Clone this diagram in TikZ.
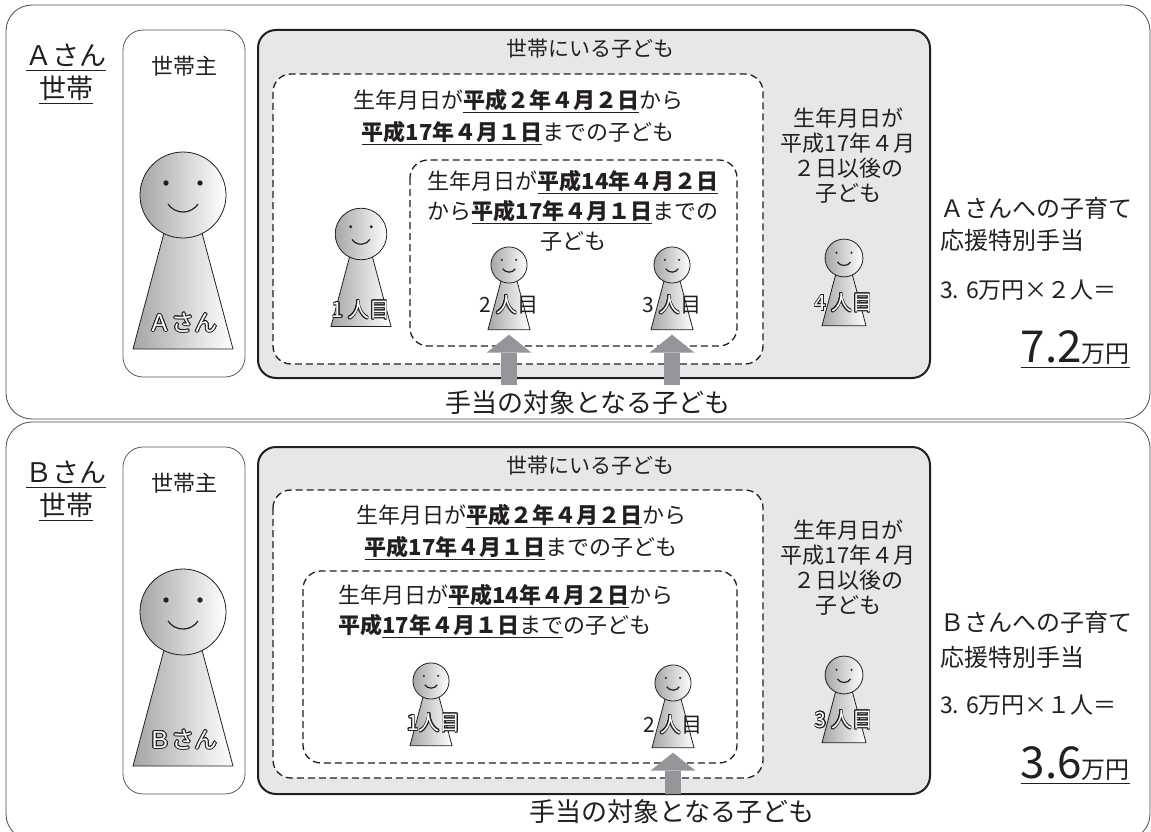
\documentclass[tikz,border=0pt]{standalone}
\usepackage{fontspec}
\setmainfont{Noto Sans CJK JP}
\usepackage{contour}
\usetikzlibrary{arrows.meta}
\contourlength{0.7pt}
\definecolor{boxgray}{HTML}{E6E7E8}
\definecolor{arrowgray}{HTML}{939598}
\definecolor{ink}{HTML}{231F20}
\newcommand\fs[2]{\fontsize{#1}{#2}\selectfont}
\newcommand\undl[2][4.5pt]{\setbox0\hbox{#2}\rlap{\smash{\rule[-#1]{\wd0}{1.3pt}}}\box0}
\newcommand\outl[1]{{\color{white}\contour{ink}{#1}}}
\tikzset{>=stealth,
  panel/.style={draw=black!70, line width=0.8pt, rounded corners=26pt},
  headbox/.style={draw=black!65, line width=0.8pt, rounded corners=20pt},
  kidsbox/.style={draw=ink, fill=boxgray, line width=2pt, rounded corners=18pt},
  agebox/.style={draw=ink, fill=white, line width=1.3pt, dash pattern=on 7pt off 4pt, rounded corners=18pt},
  txt/.style={font=\fs{22}{30}, align=center, inner sep=0pt, text=ink},
  figtext/.style={font=\fs{21}{24}, inner sep=0pt, text=ink},
  bigarrow/.style={draw=arrowgray, line width=16pt, -{Triangle[length=18pt,width=45pt,line width=0pt]}, shorten >=5pt, shorten <=6pt},
  kid/.pic={
    \shade[left color=black!35, right color=white, draw=ink, line width=0.8pt]
      (-19,38) -- (-50,154) -- (50,154) -- (19,38) -- cycle;
    \shade[left color=black!35, right color=white, draw=ink, line width=0.8pt]
      (0,0) circle (43);
    \fill[ink] (-17,-12) circle (2.7) (17,-12) circle (2.7);
    \draw[ink, line width=1.2pt] (-15,9) arc[start angle=146.4, end angle=33.6, radius=18];
    \coordinate (-foot) at (0,154);
  }
}
\begin{document}
\begin{tikzpicture}[x=1pt,y=-1pt]
\useasboundingbox (0,0) rectangle (1151,832);
\clip (0,0) rectangle (1151,832);

% household A
\draw[panel] (6,5) rectangle (1150,419);
\node[txt, font=\fs{27}{33}] (alabel) at (66,72) {\undl[6pt]{Ａさん}\\\undl[6pt]{世帯}};
\draw[headbox] (123,30) rectangle (245,377);
\node[txt] (ahost) at (184,66) {世帯主};
\pic (ahostfig) at (183,195) {kid};
\node[figtext, font=\fs{23}{24}] (ahostname) at (183,323) {\outl{Ａさん}};

\draw[kidsbox] (258,30) rectangle (930,378);
\node[txt, font=\fs{21}{24}] (akids) at (590,49) {世帯にいる子ども};
\draw[agebox] (273,74) rectangle (763,364);
\node[txt, font=\fs{22}{32}] (aolder) at (518,116)
  {生年月日が\undl{\textbf{平成２年４月２日}}から\\\undl{\textbf{平成17年４月１日}}までの子ども};
\draw[agebox] (410,160) rectangle (737,346);
\node[txt] (ayounger) at (573,211)
  {生年月日が\undl{\textbf{平成14年４月２日}}\\から\undl{\textbf{平成17年４月１日}}までの\\子ども};
\node[txt, font=\fs{22}{25}] (alater) at (848,156) {生年月日が\\平成17年４月\\２日以後の\\子ども};

\pic[scale=0.6] (a1) at (361,234) {kid};
\pic[scale=0.42] (a2) at (509,265) {kid};
\pic[scale=0.42] (a3) at (672,265) {kid};
\pic[scale=0.44] (a4) at (844,258) {kid};
\node[figtext] (a1name) at (361,310) {\outl{1 人目}};
\node[figtext] (a2name) at (509,305) {2 \outl{人}目};
\node[figtext] (a3name) at (672,305) {3 \outl{人}目};
\node[figtext] (a4name) at (844,303) {\outl{4 人目}};

\node[txt, font=\fs{26}{30}] (anote) at (588,403) {手当の対象となる子ども};
\draw[bigarrow] (anote.north -| a2-foot) -- (a2-foot);
\draw[bigarrow] (anote.north -| a3-foot) -- (a3-foot);

\node[txt, font=\fs{24}{30}, anchor=west] (asum) at (940,208) {Ａさんへの子育て};
\node[txt, font=\fs{24}{30}, anchor=west] (asum2) at (940,240) {応援特別手当};
\node[txt, font=\fs{23}{30}, anchor=west] (acalc) at (940,290) {3. 6万円×２人＝};
\node[txt, anchor=base east] (atotal) at (1130,362)
  {\undl[6pt]{{\fs{44}{44}7.2}{\fs{24}{24}万円}}};

% household B
\draw[panel] (6,422) rectangle (1150,840);
\node[txt, font=\fs{27}{33}] (blabel) at (66,489) {\undl[6pt]{Ｂさん}\\\undl[6pt]{世帯}};
\draw[headbox] (123,447) rectangle (245,794);
\node[txt] (bhost) at (184,483) {世帯主};
\pic (bhostfig) at (183,612) {kid};
\node[figtext, font=\fs{23}{24}] (bhostname) at (183,740) {\outl{Ｂさん}};

\draw[kidsbox] (258,447) rectangle (930,794);
\node[txt, font=\fs{21}{24}] (bkids) at (590,466) {世帯にいる子ども};
\draw[agebox] (273,490) rectangle (763,778);
\node[txt, font=\fs{22}{32}] (bolder) at (521,531)
  {生年月日が\undl{\textbf{平成２年４月２日}}から\\\undl{\textbf{平成17年４月１日}}までの子ども};
\draw[agebox] (303,571) rectangle (737,763);
\node[txt, align=left, anchor=west] (byounger) at (338,610)
  {生年月日が\undl{\textbf{平成14年４月２日}}から\\\textbf{平成}\undl{\textbf{17年４月１日}まで}の子ども};
\node[txt, font=\fs{22}{25}] (blater) at (848,568) {生年月日が\\平成17年４月\\２日以後の\\子ども};

\pic[scale=0.42] (b1) at (431,681) {kid};
\pic[scale=0.42] (b2) at (673,683) {kid};
\pic[scale=0.44] (b3) at (844,675) {kid};
\node[figtext] (b1name) at (434,723) {\outl{1人目}};
\node[figtext] (b2name) at (673,725) {2 \outl{人}目};
\node[figtext] (b3name) at (844,720) {\outl{3 人目}};

\node[txt, font=\fs{26}{30}] (bnote) at (672,812) {手当の対象となる子ども};
\draw[bigarrow] (bnote.north -| b2-foot) -- (b2-foot);

\node[txt, font=\fs{24}{30}, anchor=west] (bsum) at (940,622) {Ｂさんへの子育て};
\node[txt, font=\fs{24}{30}, anchor=west] (bsum2) at (940,657) {応援特別手当};
\node[txt, font=\fs{23}{30}, anchor=west] (bcalc) at (940,705) {3. 6万円×１人＝};
\node[txt, anchor=base east] (btotal) at (1130,778)
  {\undl[6pt]{{\fs{44}{44}3.6}{\fs{24}{24}万円}}};
\end{tikzpicture}
\end{document}
